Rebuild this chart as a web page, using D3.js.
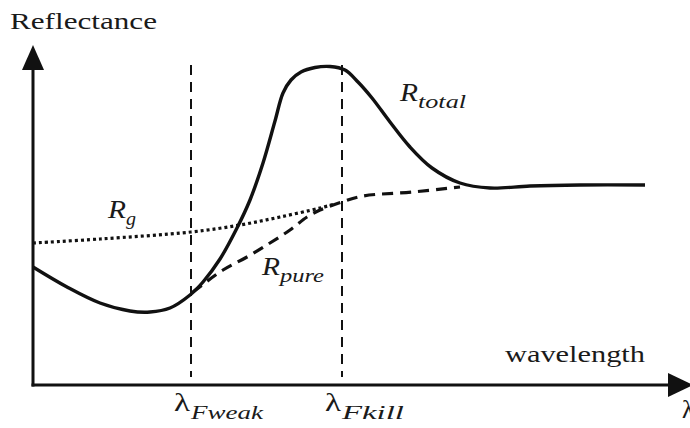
<!DOCTYPE html>
<html><head><meta charset="utf-8">
<script src="https://cdn.jsdelivr.net/npm/d3@7"></script>
<style>
html,body{margin:0;padding:0;background:#fff;}
svg{display:block;}
</style></head>
<body>
<svg id="c" width="690" height="428"></svg>
<script>
// wavelength (arbitrary units) and reflectance (arbitrary units)
const totalWl = [0,34,67,97,117,137,157,170,187,204,217,230,242,250,258,268,282,297,312,325,339,357,377,399,427,457,497,547,612];
const totalR  = [118,98,82,74,73,77,90,103,126,157,185,222,264,292,305,313,317.5,318.5,315,303,287,263,238,217,202,197,199,200,200];
const pureWl  = [160,190,214,237,257,274,287,309,330,380,427];
const pureR   = [93,115,128,142,155,168,175,183,189,193,198];
const gWl     = [0,67,158,207,247,287,302];
const gR      = [142,146,153,160,168,177,181];
const markerWl = [158, 309];
const markerLabels = [["λ","Fweak"],["λ","Fkill"]];

const FONT = "'Liberation Serif', 'DejaVu Serif', serif";

const svg = d3.select("#c");
const x = d3.scaleLinear().domain([0, 660]).range([33, 693]);
const y = d3.scaleLinear().domain([0, 340]).range([385, 45]);

const smooth = d3.line().x(d => x(d[0])).y(d => y(d[1])).curve(d3.curveCatmullRom.alpha(0.5));
const zip = (a, b) => a.map((v, i) => [v, b[i]]);

// vertical markers
svg.selectAll(".mk").data(markerWl).enter().append("line")
  .attr("x1", d => x(d)).attr("x2", d => x(d))
  .attr("y1", y(320)).attr("y2", y(8))
  .attr("stroke", "#111").attr("stroke-width", 2).attr("stroke-dasharray", "10,7");

// curves
svg.append("path").attr("d", smooth(zip(gWl, gR)))
  .attr("fill", "none").attr("stroke", "#111").attr("stroke-width", 3.2).attr("stroke-dasharray", "3,3");
svg.append("path").attr("d", smooth(zip(pureWl, pureR)))
  .attr("fill", "none").attr("stroke", "#111").attr("stroke-width", 3.2).attr("stroke-dasharray", "11,7");
svg.append("path").attr("d", smooth(zip(totalWl, totalR)))
  .attr("fill", "none").attr("stroke", "#111").attr("stroke-width", 3.4);

// axes
svg.append("line").attr("x1", x(0)).attr("x2", x(0)).attr("y1", y(0)+1.5).attr("y2", y(320))
  .attr("stroke", "#111").attr("stroke-width", 3);
svg.append("line").attr("x1", x(0)-1.5).attr("x2", x(637)).attr("y1", y(0)).attr("y2", y(0))
  .attr("stroke", "#111").attr("stroke-width", 3);
svg.append("path").attr("d", `M${x(0)},${y(340)} L${x(0)-11},${y(315)} L${x(0)+11},${y(315)} Z`).attr("fill", "#111");
svg.append("path").attr("d", `M${x(660)},${y(0)} L${x(635)},${y(0)-12} L${x(635)},${y(0)+12} Z`).attr("fill", "#111");

function txt(px, py, s, size, len, italic) {
  const t = svg.append("text").attr("x", px).attr("y", py)
    .attr("font-family", FONT).style("font-family", FONT)
    .attr("font-size", size).attr("fill", "#1a1a1a").text(s);
  if (len) t.attr("textLength", len).attr("lengthAdjust", "spacingAndGlyphs");
  if (italic) t.attr("font-style", "italic");
  return t;
}

// axis labels
txt(10, 29, "Reflectance", 24, 147);
txt(505, 362, "wavelength", 24, 140);
txt(682, 418, "λ", 25);

// marker labels
const subLen = [72, 62];
markerLabels.forEach((lab, i) => {
  const mx = x(markerWl[i]);
  txt(mx - 17, 411, lab[0], 25, 16);
  txt(mx + 0, 419, lab[1], 19, subLen[i], true);
});

// curve labels
function subLabel(px, py, main, sub, subLength) {
  txt(px, py, main, 25, 18, true);
  txt(px + 18, py + 7, sub, 19, subLength, true);
}
subLabel(400, 101, "R", "total", 48);
subLabel(108, 218, "R", "g", 10);
subLabel(262, 275, "R", "pure", 44);
</script>
</body></html>
